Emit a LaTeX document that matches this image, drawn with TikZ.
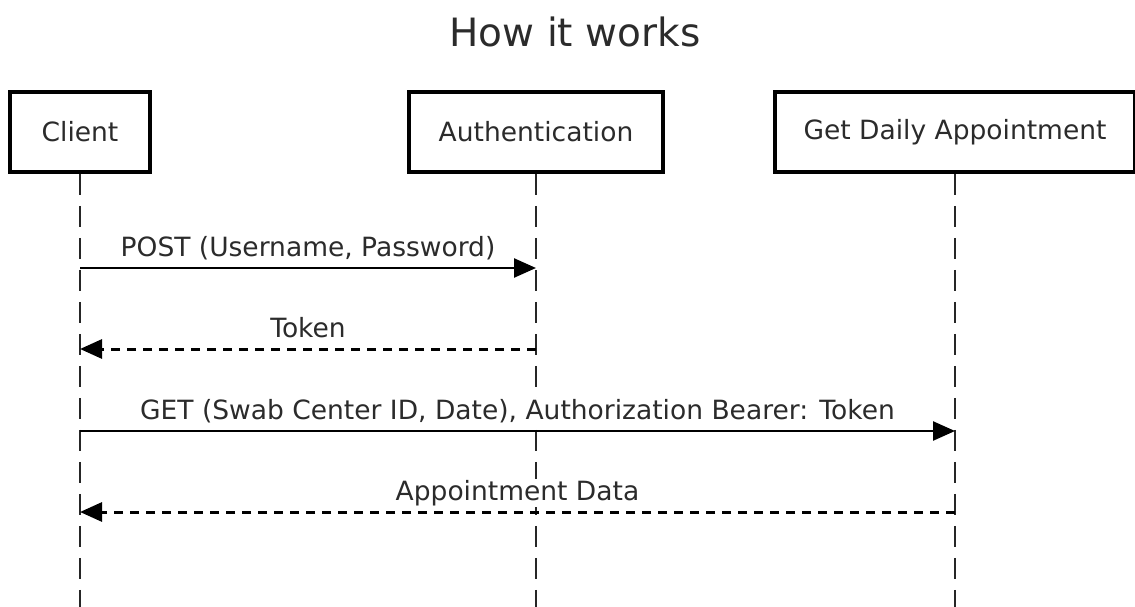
\documentclass[tikz,border=0pt]{standalone}
\usepackage{fontspec}
\setmainfont{DejaVu Sans}
\usetikzlibrary{arrows.meta}
\definecolor{ink}{HTML}{2B2B2B}
\tikzset{
  actor/.style={draw=black, line width=3.5pt, minimum height=80pt, inner sep=0pt,
    font=\fontsize{26.5}{30}\selectfont, text=ink},
  lifeline/.style={draw=black!85, line width=2.5pt, dash pattern=on 21pt off 11pt},
  call/.style={draw=black, line width=2.5pt, -{Triangle[length=22pt,width=19pt]}},
  reply/.style={draw=black, line width=3pt, dash pattern=on 9pt off 7pt,
    -{Triangle[length=22pt,width=19pt]}},
  msg/.style={font=\fontsize{26.5}{30}\selectfont, text=ink, fill=white, anchor=base,
    inner sep=1pt, yshift=12pt},
}
\begin{document}
\begin{tikzpicture}[x=1pt, y=-1pt]
  \useasboundingbox (0,0) rectangle (1135,607);

  % title
  \node[font=\fontsize{39}{44}\selectfont, text=ink] (title) at (575,32) {How it works};

  % participants
  \node[actor, minimum width=140pt] (client) at (80,132) {Client};
  \node[actor, minimum width=254pt] (auth) at (536,132) {Authentication};
  \node[actor, minimum width=360pt] (appt) at (955,132) {Get Daily Appointment};

  % lifeline ends
  \coordinate (clientEnd) at (80,607);
  \coordinate (authEnd) at (536,607);
  \coordinate (apptEnd) at (955,607);
  \draw[lifeline] (client.south) -- (clientEnd);
  \draw[lifeline] (auth.south) -- (authEnd);
  \draw[lifeline] (appt.south) -- (apptEnd);

  % message anchor points on the lifelines
  \coordinate (c1) at (80,268);  \coordinate (a1) at (536,268);
  \coordinate (c2) at (80,349);  \coordinate (a2) at (536,349);
  \coordinate (c3) at (80,431);  \coordinate (p3) at (955,431);
  \coordinate (c4) at (80,512);  \coordinate (p4) at (955,512);

  % messages
  \draw[call] (c1) -- node[msg] {POST (Username, Password)} (a1);
  \draw[reply] (a2) -- node[msg] {Token} (c2);
  \draw[call] (c3) -- node[msg] {GET (Swab Center ID, Date), Authorization Bearer: Token} (p3);
  \draw[reply] (p4) -- node[msg] {Appointment Data} (c4);
\end{tikzpicture}
\end{document}
